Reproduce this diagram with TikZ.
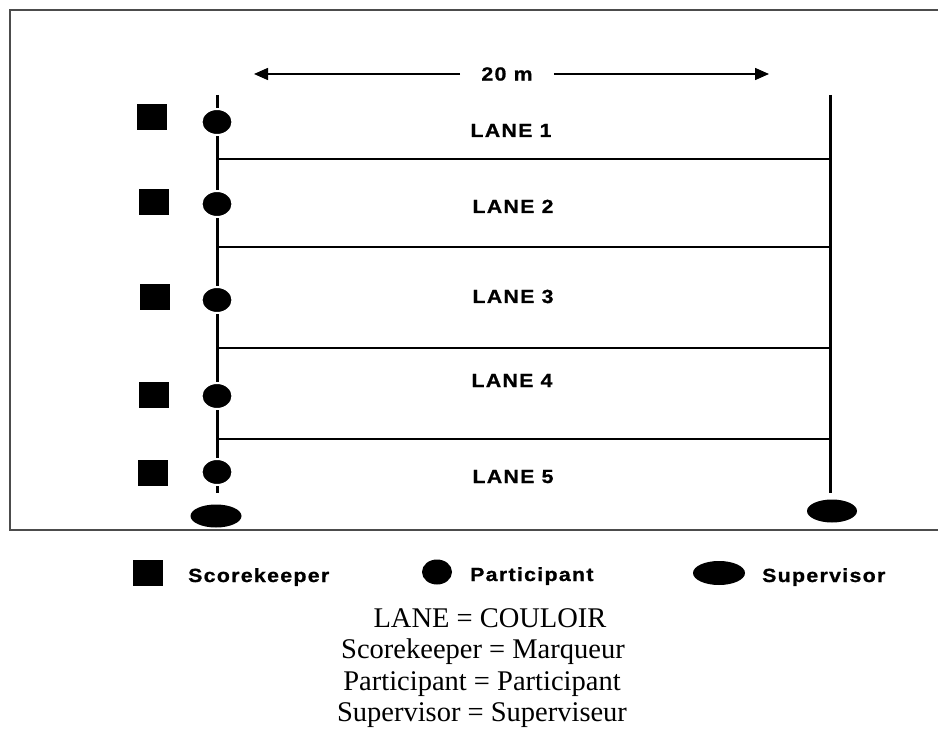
\documentclass[tikz,border=0pt]{standalone}
\usepackage{fontspec}
\setmainfont{Liberation Serif}
\newfontfamily\labfont[LetterSpace=7,FakeStretch=1.12,FakeBold=1]{Liberation Sans}
\usetikzlibrary{arrows.meta,shapes.geometric}
\tikzset{
  lab/.style={font=\labfont\bfseries\fontsize{19}{21}\selectfont, inner sep=0pt},
  keeper/.style={rectangle, fill=black, minimum width=30, minimum height=26, inner sep=0pt},
  partic/.style={ellipse, fill=black, draw=white, line width=2, minimum width=31, minimum height=26, inner sep=0pt},
  superv/.style={ellipse, fill=black, minimum width=51, minimum height=23, inner sep=0pt},
  post/.style={line width=3, black},
  laneline/.style={line width=1.3, black},
  trans/.style={font=\fontsize{28.5}{31}\selectfont, inner sep=0pt, anchor=base},
  dimarrow/.style={line width=1.5, -{Triangle[length=14, width=12]}}
}
\begin{document}
\begin{tikzpicture}[x=1pt, y=-1pt]
\clip (0,0) rectangle (938,730);
\useasboundingbox (0,0) rectangle (938,730);
\fill[white] (0,0) rectangle (938,730);
% frame
\draw[line width=2, black!70] (10,10) rectangle (945,530);
% posts
\coordinate (lt) at (217,95);
\coordinate (lb) at (217,493);
\coordinate (rt) at (830,95);
\coordinate (rb) at (830,493);
\draw[post] (lt) -- (lb);
\draw[post] (rt) -- (rb);
% lane lines
\foreach \y [count=\i] in {159,247,348,439}{
  \coordinate (hl\i) at (217,\y);
  \coordinate (hr\i) at (830,\y);
  \draw[laneline] (hl\i) -- (hr\i);
}
% dimension arrow
\node[lab, inner xsep=21pt] (t20) at (507,74) {20 m};
\coordinate (aL) at (254,74);
\coordinate (aR) at (769,74);
\draw[dimarrow] (t20.west) -- (aL);
\draw[dimarrow] (t20.east) -- (aR);
% lane labels
\node[lab, anchor=base] (l1) at (511,137) {LANE 1};
\node[lab, anchor=base] (l2) at (513,213) {LANE 2};
\node[lab, anchor=base] (l3) at (513,303) {LANE 3};
\node[lab, anchor=base] (l4) at (512,387) {LANE 4};
\node[lab, anchor=base] (l5) at (513,483) {LANE 5};
% scorekeepers
\node[keeper] (s1) at (152,117) {};
\node[keeper] (s2) at (154,202) {};
\node[keeper] (s3) at (155,297) {};
\node[keeper] (s4) at (154,395) {};
\node[keeper] (s5) at (153,473) {};
% participants
\node[partic] (p1) at (217,122) {};
\node[partic] (p2) at (217,204) {};
\node[partic] (p3) at (217,300) {};
\node[partic] (p4) at (217,396) {};
\node[partic] (p5) at (217,472) {};
% supervisors
\node[superv] (u1) at (216,516) {};
\node[superv, minimum width=50] (u2) at (832,511) {};
% legend
\node[keeper] (gk) at (148,573) {};
\node[lab, anchor=base west] (gkt) at (188,582) {Scorekeeper};
\node[ellipse, fill=black, minimum width=30, minimum height=25, inner sep=0pt] (gp) at (437,572) {};
\node[lab, anchor=base west] (gpt) at (470,581) {Participant};
\node[superv, minimum width=52, minimum height=24] (gs) at (719,573) {};
\node[lab, anchor=base west] (gst) at (762,582) {Supervisor};
% translations
\node[trans] (tr1) at (490,627) {LANE = COULOIR};
\node[trans] (tr2) at (483,658) {Scorekeeper = Marqueur};
\node[trans] (tr3) at (482,690) {Participant = Participant};
\node[trans] (tr4) at (482,721) {Supervisor = Superviseur};
\end{tikzpicture}
\end{document}
